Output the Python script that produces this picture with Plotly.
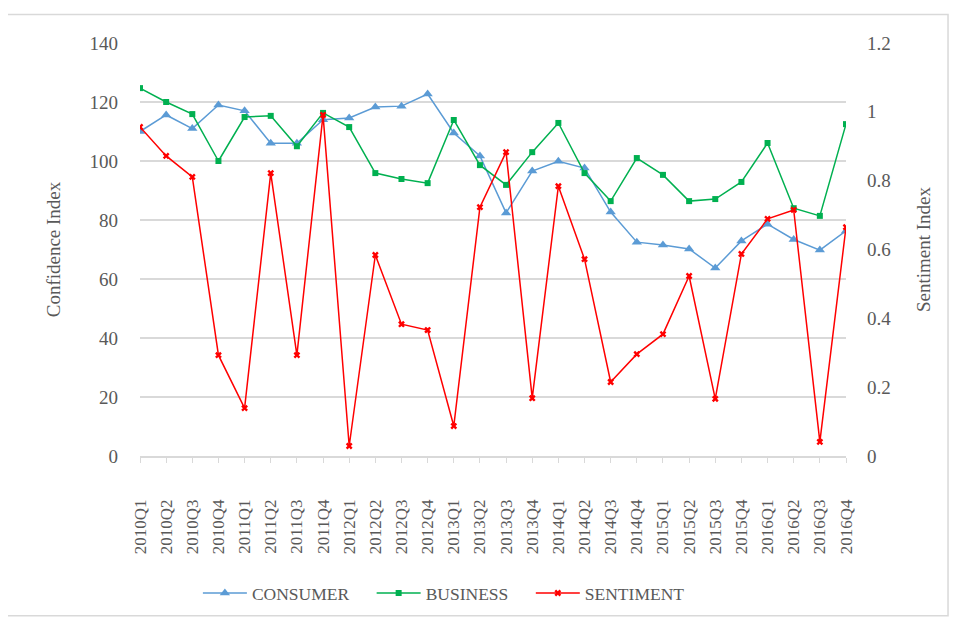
import plotly.graph_objects as go

quarters = [f"{y}Q{q}" for y in range(2010, 2017) for q in range(1, 5)]

consumer = [110, 115.6, 111, 119, 117, 106, 106, 114, 114.6, 118.3, 118.6, 122.7,
            109.5, 101.7, 82.4, 96.6, 99.9, 97.6, 82.7, 72.5, 71.5, 70.2, 63.7, 72.9,
            78.6, 73.4, 69.8, 76.3]
business = [124.7, 120, 115.9, 100, 114.9, 115.3, 105, 116.3, 111.5, 95.9, 93.9, 92.5,
            113.9, 98.6, 91.9, 103, 112.9, 95.9, 86.4, 101, 95.3, 86.4, 87.1, 92.9,
            106.1, 84, 81.4, 112.5]
sentiment = [0.956, 0.872, 0.811, 0.293, 0.139, 0.822, 0.293, 0.991, 0.029, 0.584, 0.383, 0.366,
             0.087, 0.723, 0.883, 0.168, 0.784, 0.572, 0.215, 0.296, 0.354, 0.523, 0.166, 0.587,
             0.689, 0.715, 0.041, 0.665]

left_ticks = [0, 20, 40, 60, 80, 100, 120, 140]
right_ticks = [0, 0.2, 0.4, 0.6, 0.8, 1, 1.2]
right_labels = ["0", "0.2", "0.4", "0.6", "0.8", "1", "1.2"]

FONT = "Liberation Serif"
GRAY = "#595959"
PAD = "\u00a0" * 4

fig = go.Figure()
fig.add_trace(go.Scatter(x=quarters, y=consumer, name="CONSUMER" + PAD, mode="lines+markers",
                         line=dict(color="#5b9bd5", width=1.5),
                         marker=dict(symbol="triangle-up", size=9, color="#5b9bd5")))
fig.add_trace(go.Scatter(x=quarters, y=business, name="BUSINESS" + PAD, mode="lines+markers",
                         line=dict(color="#00b050", width=1.5),
                         marker=dict(symbol="square", size=6, color="#00b050")))
fig.add_trace(go.Scatter(x=quarters, y=sentiment, name="SENTIMENT", mode="lines+markers",
                         yaxis="y2",
                         line=dict(color="#ff0000", width=1.5),
                         marker=dict(symbol="x", size=6, color="#ff0000")))

fig.update_layout(
    width=957, height=623,
    margin=dict(l=132, r=119, t=35, b=175),
    paper_bgcolor="white", plot_bgcolor="white",
    font=dict(family=FONT, color=GRAY, size=19),
    xaxis=dict(type="category", range=[0, 27], tickangle=-90,
               tickfont=dict(size=17, color=GRAY), ticklabelstandoff=30,
               showgrid=False, showline=True, linecolor="#d9d9d9", linewidth=1.5,
               ticks="outside", ticklen=5, tickcolor="#d9d9d9",
               minor=dict(ticks="outside", ticklen=5, tickcolor="#d9d9d9", dtick=1)),
    yaxis=dict(range=[0, 140], tickvals=left_ticks, showgrid=True, gridcolor="#d9d9d9",
               gridwidth=1.5, zeroline=False, showline=False,
               tickfont=dict(size=19, color=GRAY), ticklabelstandoff=21,
               title=dict(text="Confidence Index", font=dict(size=19, color=GRAY), standoff=23)),
    yaxis2=dict(range=[0, 1.2], tickvals=right_ticks, ticktext=right_labels,
                overlaying="y", side="right", showgrid=False, zeroline=False,
                tickfont=dict(size=19, color=GRAY), ticklabelstandoff=20,
                title=dict(text="Sentiment Index", font=dict(size=19, color=GRAY), standoff=26)),
    legend=dict(orientation="h", x=0.082, xanchor="left", y=-0.332, yanchor="middle",
                font=dict(size=17.5, color=GRAY), tracegroupgap=0, itemwidth=44),
    showlegend=True,
)

fig.add_shape(type="rect", xref="paper", yref="paper",
              x0=-0.1898, x1=1.1445, y0=-0.387, y1=1.069,
              line=dict(color="#d9d9d9", width=1.5), fillcolor="rgba(0,0,0,0)", layer="below")

fig.write_html("out.html")
